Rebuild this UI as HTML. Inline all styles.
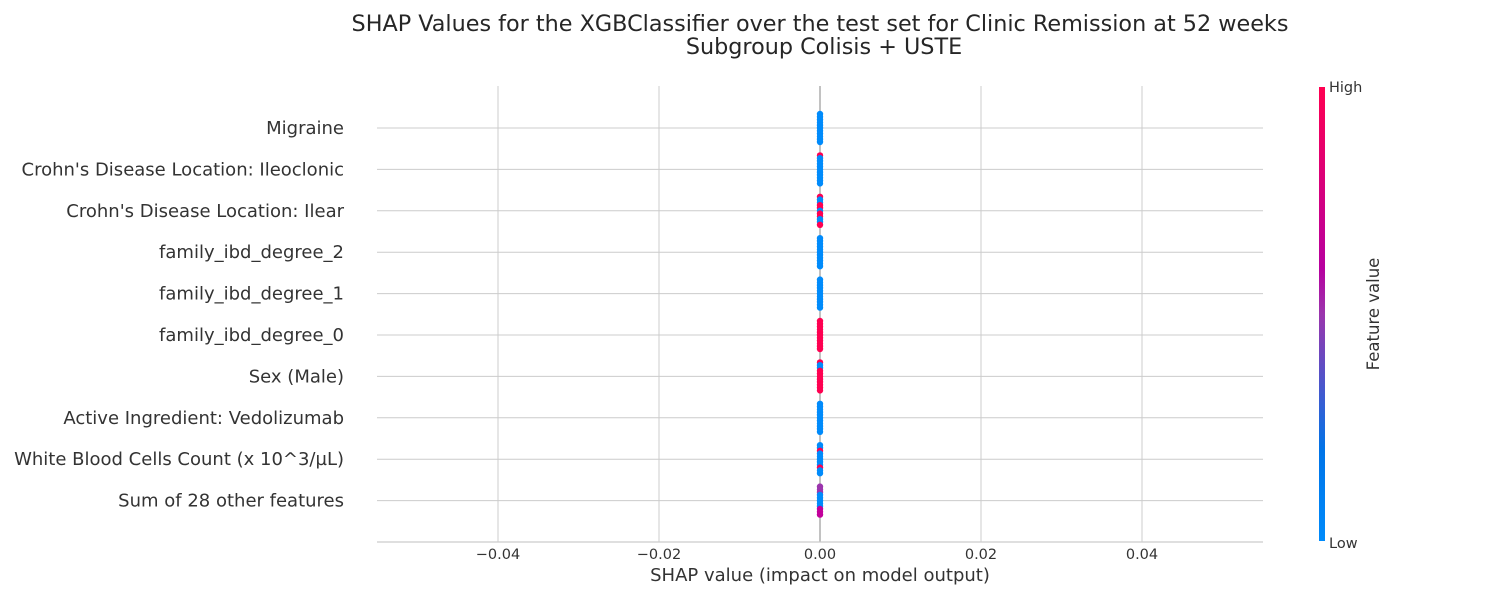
<!DOCTYPE html>
<html><head><meta charset="utf-8">
<style>
body{margin:0;background:#fff;}
svg{display:block;font-family:"DejaVu Sans","Liberation Sans",sans-serif;}
</style></head>
<body>
<svg id="chart" width="1500" height="600" viewBox="0 0 1500 600" xmlns="http://www.w3.org/2000/svg">
<defs>
<linearGradient id="cb" x1="0" y1="1" x2="0" y2="0">
<stop offset="0" stop-color="#008bfb"/>
<stop offset="0.2" stop-color="#0074e8"/>
<stop offset="0.5" stop-color="#9b35ad"/>
<stop offset="0.6" stop-color="#b7009f"/>
<stop offset="1" stop-color="#ff0051"/>
</linearGradient>
</defs>
<text x="820" y="31" text-anchor="middle" font-size="22.3" fill="#262626">SHAP Values for the XGBClassifier over the test set for Clinic Remission at 52 weeks</text>
<text x="824" y="54" text-anchor="middle" font-size="22.3" fill="#262626">Subgroup Colisis + USTE</text>
<g id="grid"></g>
<g id="rows"></g>
<g id="dots"></g>
<g id="xaxis"></g>
<rect x="1319" y="87" width="6" height="454" fill="url(#cb)"/>
<text x="1329" y="92" font-size="14.5" fill="#333">High</text>
<text x="1329" y="548" font-size="14.5" fill="#333">Low</text>
<text transform="translate(1379,314) rotate(-90)" text-anchor="middle" font-size="16.5" fill="#333">Feature value</text>
<text x="820" y="581" text-anchor="middle" font-size="18" fill="#333">SHAP value (impact on model output)</text>
</svg>
<script>
const features = ["Migraine","Crohn's Disease Location: Ileoclonic","Crohn's Disease Location: Ilear","family_ibd_degree_2","family_ibd_degree_1","family_ibd_degree_0","Sex (Male)","Active Ingredient: Vedolizumab","White Blood Cells Count (x 10^3/\u00b5L)","Sum of 28 other features"];
const shapValues = [0,0,0,0,0,0,0,0,0,0];
const xTicks = [-0.04,-0.02,0,0.02,0.04];
const xTickLabels = ["\u22120.04","\u22120.02","0.00","0.02","0.04"];
// per-row feature-value colour pattern (B=low,R=high,P=purple,M=magenta)
const rowColors = ["BBBBBBBBBBB","RBBBBBBBBBB","RBBRRBRRBBR","BBBBBBBBBBB","BBBBBBBBBBB","RRRRRRRRRRR","RBBRRRRRRRR","BBBBBBBBBBB","BBRBBBBBRBB","PPPBBBBBMMM"];
const palette = {B:"#008bfb",R:"#ff0051",P:"#9b35ad",M:"#c2009b"};
const NS="http://www.w3.org/2000/svg";
const x0=377,x1=1263;
const xs=v=>820+(v/0.02)*161;
const ys=i=>128+i*41.4;
function mk(t,a,p){const e=document.createElementNS(NS,t);for(const k in a)e.setAttribute(k,a[k]);p.appendChild(e);return e;}
const grid=document.getElementById('grid'),rows=document.getElementById('rows'),dots=document.getElementById('dots'),xa=document.getElementById('xaxis');
xTicks.forEach((t,i)=>{
 const l=mk('line',{x1:xs(t),x2:xs(t),y1:86,y2:542,stroke:'#cccccc','stroke-width':1},grid);
 
 
 const tx=mk('text',{x:xs(t),y:559,'text-anchor':'middle','font-size':14.5,fill:'#333'},xa);
 tx.textContent=xTickLabels[i];
 
 
});
features.forEach((f,i)=>{
 const l=mk('line',{x1:x0,x2:x1,y1:ys(i),y2:ys(i),stroke:'#cccccc','stroke-width':1},grid);
 
 
 const t=mk('text',{x:344,y:ys(i)+6,'text-anchor':'end','font-size':18,fill:'#333'},rows);
 t.textContent=f;
 
 
});
const zl=mk('line',{x1:xs(0),x2:xs(0),y1:86,y2:542,stroke:'#999','stroke-width':1.2},grid);


const ax=mk('line',{x1:x0,x2:x1,y1:542,y2:542,stroke:'#cccccc','stroke-width':1.2},xa);


features.forEach((f,i)=>{
 const cols=rowColors[i];
 for(let k=0;k<cols.length;k++){
  const c=mk('circle',{cx:xs(shapValues[i]),cy:ys(i)-14+k*2.8,r:3.2,fill:palette[cols[k]]},dots);
  
  
 }
});
</script>
</body></html>
